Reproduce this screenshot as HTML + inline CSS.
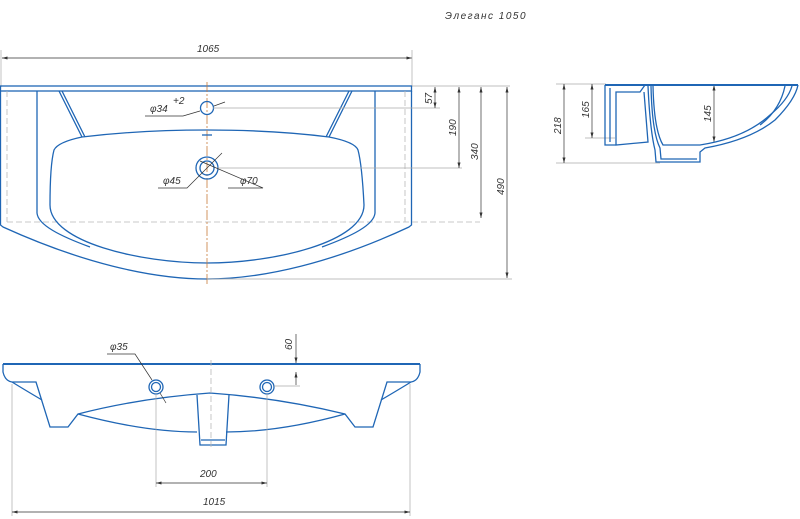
<!DOCTYPE html>
<html><head><meta charset="utf-8"><style>
html,body{margin:0;padding:0;background:#fff;width:800px;height:519px;overflow:hidden}
text{font-family:"Liberation Sans",sans-serif;font-style:italic;fill:#333;font-size:10px}
.b{fill:none;stroke:#1f66b5;stroke-width:1.3}
.bt{fill:none;stroke:#1f66b5;stroke-width:2}
.d{fill:none;stroke:#333;stroke-width:0.7}
.e{fill:none;stroke:#aaa;stroke-width:0.7}
.dash{fill:none;stroke:#b9b9b9;stroke-width:0.8;stroke-dasharray:6 3}
.c{fill:none;stroke:#c87a3a;stroke-width:0.8;stroke-dasharray:10 2 2 2}
</style></head><body>
<svg width="800" height="519" viewBox="0 0 800 519" xmlns="http://www.w3.org/2000/svg">
<defs><marker id="a" markerWidth="8" markerHeight="6" refX="8" refY="3" orient="auto-start-reverse"><path d="M0,0.8 L8,3 L0,5.2z" fill="#333"/></marker></defs>
<text x="445" y="19" font-size="13" letter-spacing="1.5">Элеганс 1050</text>

<!-- top view -->
<line class="d" x1="2" y1="58" x2="412" y2="58" marker-start="url(#a)" marker-end="url(#a)"/>
<line class="e" x1="1" y1="50" x2="1" y2="87"/><line class="e" x1="412" y1="50" x2="412" y2="87"/>
<text x="197" y="52">1065</text>
<rect class="b" x="0.5" y="86" width="411" height="5"/>
<path class="b" d="M0.5,91 V225 L3,227 C80,262 150,279 207,279 C264,279 334,262 409,227 L411.5,225 V91"/>
<path class="dash" d="M7,91 V222 M405,91 V222 M7,222 H480"/>
<path class="b" d="M37,91 V213 C38,225 60,236 90,247 M375,91 V213 C374,225 352,236 322,247"/>
<path class="b" d="M59,91 L82,137 M62,91 L85,137 M352,91 L329,137 M349,91 L326,137"/>
<path class="b" d="M82,137 Q140,130 207,130 Q274,130 329,137 Q355,142 358,150 Q362,165 364,205 C364,242 274,263 207,263 C140,263 50,242 50,205 Q50,165 54,150 Q58,142 82,137"/>
<line class="c" x1="207" y1="82" x2="207" y2="286"/>
<circle class="b" cx="207" cy="108" r="6.5"/>
<line class="b" x1="202" y1="135" x2="212" y2="135"/>
<circle class="b" cx="207" cy="168" r="11"/><circle class="b" cx="207" cy="168" r="7"/>
<path class="d" d="M145,116 H183 L200,111 M225,102 L214,106"/>
<text x="150" y="112">φ34</text><text x="173" y="104" font-size="6">+2</text>
<path class="d" d="M158,188 H187 L213,162 M222,153 L213,162 M228,188 H263 L200,161"/>
<text x="163" y="184">φ45</text><text x="240" y="184">φ70</text>
<path class="e" d="M213,108 H440 M218,168 H462 M207,279 H512 M412,86 H510"/>
<line class="d" x1="435" y1="87" x2="435" y2="108" marker-start="url(#a)" marker-end="url(#a)"/>
<line class="d" x1="459" y1="87" x2="459" y2="168" marker-start="url(#a)" marker-end="url(#a)"/>
<line class="d" x1="481" y1="87" x2="481" y2="218" marker-start="url(#a)" marker-end="url(#a)"/>
<line class="d" x1="507" y1="87" x2="507" y2="278" marker-start="url(#a)" marker-end="url(#a)"/>
<text transform="translate(432,104) rotate(-90)">57</text>
<text transform="translate(456,136) rotate(-90)">190</text>
<text transform="translate(478,160) rotate(-90)">340</text>
<text transform="translate(504,195) rotate(-90)">490</text>

<!-- side view -->
<path class="e" d="M556,84 H606 M556,163 H660 M585,138 H615"/>
<line class="d" x1="564" y1="84" x2="564" y2="163" marker-start="url(#a)" marker-end="url(#a)"/>
<line class="d" x1="592" y1="84" x2="592" y2="138" marker-start="url(#a)" marker-end="url(#a)"/>
<line class="d" x1="714" y1="85" x2="714" y2="142" marker-start="url(#a)" marker-end="url(#a)"/>
<text transform="translate(561,134) rotate(-90)">218</text>
<text transform="translate(589,118) rotate(-90)">165</text>
<text transform="translate(711,122) rotate(-90)">145</text>
<line class="bt" x1="605" y1="85" x2="798" y2="85"/>
<path class="b" d="M605,85 V145 H616 V92 H640 L645,85 M616,92 V145 L648,142 L644,92"/>
<path class="b" d="M610,88 V142 M648,86 Q650,130 655,150 L656,162 H700 V152 L705,148 Q750,140 775,120 Q795,100 798,85"/>
<path class="b" d="M653,86 Q654,130 663,145 H700 Q745,138 770,115 Q788,100 792,86"/>
<path class="b" d="M651,86 Q652,132 660,148 L661,159 H697 M785,86 Q780,110 760,125"/>

<!-- front view -->
<path class="bt" d="M3,364 H420"/>
<path class="b" d="M3,364 V372 Q5,381 12,382 L36,382 L50,427 L68,427 L78,414 Q140,398 210,393 Q280,398 345,414 L355,427 L373,427 L387,382 L411,382 Q418,381 420,372 V364"/>
<path class="b" d="M12,382 Q25,390 42,400 M411,382 Q398,390 381,400"/>
<path class="b" d="M78,414 Q145,432 197,432 M226,432 Q280,432 345,414"/>
<path class="b" d="M197,395 L200,445 H226 L229,395 M201,440 H225"/>
<circle class="b" cx="156" cy="387" r="7"/><circle class="b" cx="156" cy="387" r="4.5"/>
<circle class="b" cx="267" cy="387" r="7"/><circle class="b" cx="267" cy="387" r="4.5"/>
<line class="dash" x1="211" y1="360" x2="211" y2="450" stroke="#c9a98a"/>
<path class="d" d="M107,354 H135 L152,380 M160,393 L166,403"/>
<text x="110" y="350">φ35</text>
<line class="d" x1="296" y1="334" x2="296" y2="363" marker-end="url(#a)"/>
<line class="d" x1="296" y1="385" x2="296" y2="372" marker-end="url(#a)"/>
<path class="e" d="M274,386 H300"/>
<text transform="translate(292,350) rotate(-90)">60</text>
<path class="e" d="M156,394 V487 M267,394 V487 M12,384 V516 M410,384 V516"/>
<line class="d" x1="156" y1="483" x2="267" y2="483" marker-start="url(#a)" marker-end="url(#a)"/>
<text x="200" y="477">200</text>
<line class="d" x1="12" y1="512" x2="410" y2="512" marker-start="url(#a)" marker-end="url(#a)"/>
<text x="203" y="505">1015</text>
</svg>
</body></html>
